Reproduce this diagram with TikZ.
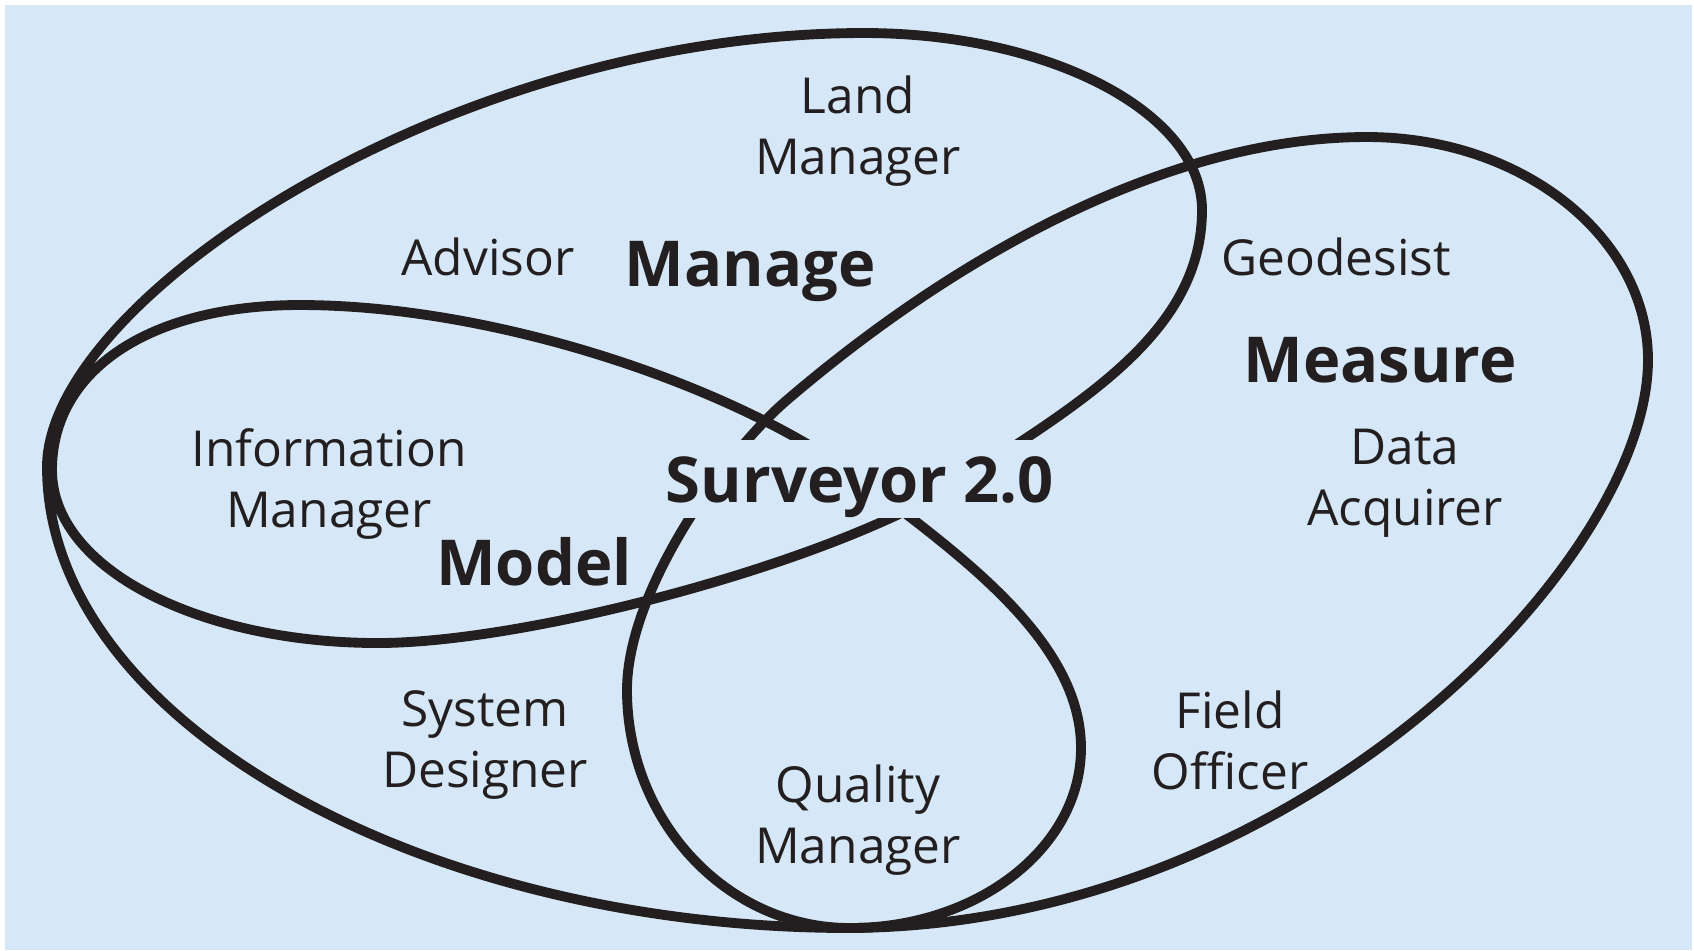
\documentclass[tikz,border=0pt]{standalone}
\usepackage{fontspec}
\setmainfont{Open Sans}
\usetikzlibrary{calc}

\definecolor{paleblue}{RGB}{214,232,247}
\definecolor{ink}{RGB}{35,31,32}

\begin{document}
\begin{tikzpicture}[x=0.01cm, y=-0.01cm,
	role/.style={align=center, text=ink, font=\fontsize{14.1}{17.3}\selectfont},
	area/.style={text=ink, font=\bfseries\fontsize{18}{22}\selectfont},
	loopline/.style={draw=ink, line width=2.8pt, line join=round}]

	% page and background
	\fill[white] (0,0) rectangle (1694,950);
	\fill[paleblue] (5,5) rectangle (1692,950);
	\useasboundingbox (0,0) rectangle (1694,950);

	% measure lobe, comes back along the left side of the quality lobe
	\draw[loopline] (850,928)
		.. controls (1300,925) and (1648,560) .. (1648,360)
		.. controls (1648,237) and (1522,137) .. (1367,137)
		.. controls (1167,137) and (954,257) .. (787,400)
		.. controls (726,452) and (627,590) .. (627,690)
		.. controls (627,821) and (727,928) .. cycle;

	% manage lobe, model lobe and right side of the quality lobe
	\draw[loopline] (850,928)
		.. controls (420,928) and (47,720) .. (47,467)
		.. controls (47,300) and (450,33) .. (864,33)
		.. controls (1050,33) and (1202,113) .. (1202,210)
		.. controls (1202,330) and (1086,400) .. (960,481)
		.. controls (834,562) and (528,643) .. (378,643)
		.. controls (202,643) and (52,570) .. (52,470)
		.. controls (52,370) and (150,305) .. (300,305)
		.. controls (500,305) and (744,390) .. (863,481)
		.. controls (958,554) and (1081,640) .. (1081,748)
		.. controls (1081,848) and (977,928) .. cycle;

	% labels of the three areas
	\node[area, anchor=base] (manage) at (750,286) {Manage};
	\node[area, anchor=base] (measure) at (1380,382) {Measure};
	\node[area, anchor=base] (model) at (534,585) {Model};

	% the roles
	\node[role] (landmgr) at (858,131) {Land\\Manager};
	\node[role, anchor=base] (advisor) at (488,275) {Advisor};
	\node[role, anchor=base] (geodesist) at (1336,275) {Geodesist};
	\node[role] (acquirer) at (1405,483) {Data\\Acquirer};
	\node[role] (infomgr) at (329,484) {Information\\Manager};
	\node[role] (designer) at (485,745) {System\\Designer};
	\node[role] (officer) at (1230,740) {Field\\Officer};
	\node[role] (qualitymgr) at (858,820) {Quality\\Manager};

	% centre
	\node[area, fill=paleblue, anchor=base, text height=12.9pt, text depth=0pt,
		inner ysep=4.6pt, inner xsep=2pt] (hub) at (860,502) {Surveyor 2.0};
\end{tikzpicture}
\end{document}
